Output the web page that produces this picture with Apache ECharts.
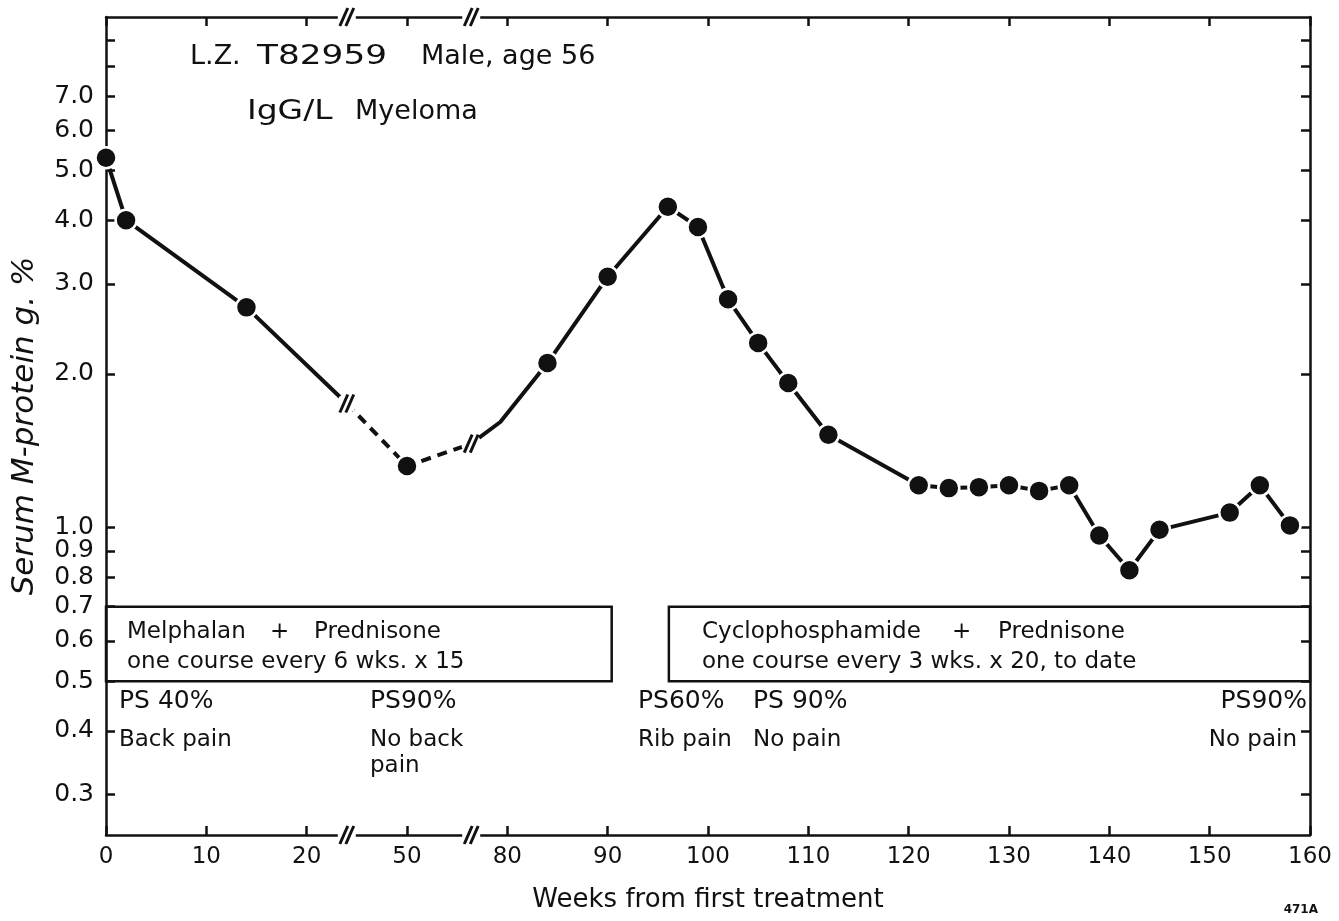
<!DOCTYPE html>
<html><head><meta charset="utf-8">
<script src="https://cdn.jsdelivr.net/npm/echarts@6/dist/echarts.min.js"></script>
<style>html,body{margin:0;padding:0;background:#fff}#c{width:1339px;height:921px}</style>
</head><body><div id="c"></div>
<script>
// ---- data ----
const weeks   = [0, 2, 14, 50, 84, 90, 96, 99, 102, 105, 108, 112, 121, 124, 127, 130, 133, 136, 139, 142, 145, 152, 155, 158];
const protein = [5.3, 4.0, 2.7, 1.32, 2.1, 3.1, 4.25, 3.88, 2.8, 2.3, 1.92, 1.52, 1.21, 1.195, 1.2, 1.21, 1.18, 1.21, 0.965, 0.825, 0.99, 1.07, 1.21, 1.01];
const kinkWeeks  = [79.3];
const kinkValues = [1.61];
// axis breaks (in compressed axis units) and where the line crosses them
const breakAxisPos = [24, 36.4];
const breakValues  = [1.75, 1.46];
const xTickLabels = ['0', '10', '20', '50', '80', '90', '100', '110', '120', '130', '140', '150', '160'];
const yTickValues  = [0.3, 0.4, 0.5, 0.6, 0.7, 0.8, 0.9, 1, 2, 3, 4, 5, 6, 7, 8, 9];
const yLabelValues = [0.3, 0.4, 0.5, 0.6, 0.7, 0.8, 0.9, 1, 2, 3, 4, 5, 6, 7];

// broken week scale: 0–24 | 44–56.4 | 76.4–160
function toAxis(w) { if (w <= 24) return w; if (w <= 56.4) return w - 20; return w - 40; }

const FONT = 'DejaVu Sans';
const K = '#111';

const pts = weeks.map((w, i) => [toAxis(w), protein[i]]);
const kink = kinkWeeks.map((w, i) => [toAxis(w), kinkValues[i]]);
const seg1 = pts.filter(p => p[0] < breakAxisPos[0]).concat([[breakAxisPos[0], breakValues[0]]]);
const segDash = [[breakAxisPos[0], breakValues[0]], pts[3], [breakAxisPos[1], breakValues[1]]];
const seg2 = [[breakAxisPos[1], breakValues[1]]].concat(kink, pts.filter(p => p[0] > breakAxisPos[1]));

const chart = echarts.init(document.getElementById('c'), null, {renderer: 'canvas'});

const xCommon = {
  type: 'value', min: 0, max: 120, interval: 10,
  axisLine: {onZero: false, lineStyle: {color: K, width: 2.5}},
  axisTick: {inside: true, length: 9, lineStyle: {color: K, width: 2.5}},
  splitLine: {show: false}
};
const yCommon = {
  type: 'log', logBase: 10, min: 0.25, max: 10,
  axisLine: {show: true, onZero: false, lineStyle: {color: K, width: 2.5}},
  axisTick: {show: true, inside: true, length: 9, customValues: yTickValues, lineStyle: {color: K, width: 2.5}},
  splitLine: {show: false}, minorTick: {show: false}
};
const lineStyle = {color: K, width: 4};

chart.setOption({
  animation: false,
  backgroundColor: '#fff',
  grid: {left: 106, right: 29, top: 17, bottom: 86, containLabel: false, outerBoundsMode: 'none'},
  xAxis: [
    Object.assign({}, xCommon, {
      position: 'bottom',
      axisLabel: {color: K, fontFamily: FONT, fontSize: 23, margin: 11,
        formatter: v => xTickLabels[Math.round(v / 10)] || ''},
      name: 'Weeks from first treatment', nameLocation: 'middle', nameGap: 52,
      nameTextStyle: {color: K, fontFamily: FONT, fontSize: 26}
    }),
    Object.assign({}, xCommon, {position: 'top', axisLabel: {show: false}})
  ],
  yAxis: [
    Object.assign({}, yCommon, {
      position: 'left',
      axisLabel: {color: K, fontFamily: FONT, fontSize: 25, margin: 12, customValues: yLabelValues,
        formatter: v => Number(v).toFixed(1)},
      name: 'Serum M-protein g. %', nameLocation: 'middle', nameGap: 66, nameRotate: 90,
      nameTextStyle: {color: K, fontFamily: FONT, fontSize: 31, fontStyle: 'italic'}
    }),
    Object.assign({}, yCommon, {position: 'right', axisLabel: {show: false, customValues: yLabelValues}})
  ],
  series: [
    {type: 'line', data: seg1, showSymbol: false, lineStyle: lineStyle, z: 3,
      markArea: {silent: true, itemStyle: {color: 'rgba(0,0,0,0)', borderColor: K, borderWidth: 2.5},
        data: [
          [{coord: [0, 0.7]}, {coord: [50.4, 0.5]}],
          [{coord: [56.1, 0.7]}, {coord: [120, 0.5]}]
        ]}},
    {type: 'line', data: segDash, showSymbol: false, lineStyle: {color: K, width: 4, type: [10, 7]}, z: 3},
    {type: 'line', data: seg2, showSymbol: false, lineStyle: lineStyle, z: 3},
    {type: 'scatter', data: pts, symbol: 'circle', symbolSize: 21,
      itemStyle: {color: K, borderColor: '#fff', borderWidth: 2.5, opacity: 1}, z: 5}
  ]
});

// ---- annotations ----
const g = [];
function txt(x, y, s, size, align, extra) {
  extra = extra || {};
  g.push({type: 'text', x: x, y: y, z: 100, scaleX: extra.sx || 1,
    style: {text: s, fill: K, font: (extra.bold ? 'bold ' : '') + size + 'px "' + FONT + '"',
      textAlign: align || 'left', textVerticalAlign: 'middle'}});
}
function strokes(cx, cy, h, sep, cover) {
  if (cover === 'h') g.push({type: 'rect', z: 99, shape: {x: cx - sep - 3, y: cy - 3, width: 2 * sep + 6, height: 6}, style: {fill: '#fff'}});
  if (cover === 'c') g.push({type: 'circle', z: 99, shape: {cx: cx, cy: cy, r: sep + 4}, style: {fill: '#fff'}});
  [-sep / 2, sep / 2].forEach(d => g.push({type: 'line', z: 100,
    shape: {x1: cx + d - h * 0.22, y1: cy + h / 2, x2: cx + d + h * 0.22, y2: cy - h / 2},
    style: {stroke: K, lineWidth: 3}}));
}
const gridTop = 17, gridBottom = 921 - 86;
breakAxisPos.forEach((a, i) => {
  const px = chart.convertToPixel({xAxisIndex: 0}, a);
  strokes(px, gridTop, 18, 6, 'h');
  strokes(px, gridBottom, 18, 6, 'h');
  const p = chart.convertToPixel({xAxisIndex: 0, yAxisIndex: 0}, [a, breakValues[i]]);
  strokes(p[0], p[1], 18, 6, 'c');
});

txt(190, 57, 'L.Z.', 27);
txt(257, 57, 'T82959', 27, 'left', {sx: 1.27});
txt(421, 57, 'Male, age 56', 27);
txt(247, 112, 'IgG/L', 27, 'left', {sx: 1.22});
txt(355, 112, 'Myeloma', 27);
txt(127, 632, 'Melphalan', 23);
txt(270, 632, '+', 23);
txt(314, 632, 'Prednisone', 23);
txt(127, 662, 'one course every 6 wks. x 15', 23);
txt(702, 632, 'Cyclophosphamide', 23);
txt(952, 632, '+', 23);
txt(998, 632, 'Prednisone', 23);
txt(702, 662, 'one course every 3 wks. x 20, to date', 23);
txt(119, 701, 'PS 40%', 25);
txt(119, 740, 'Back pain', 23);
txt(370, 701, 'PS90%', 25);
txt(370, 740, 'No back', 23);
txt(370, 766, 'pain', 23);
txt(638, 701, 'PS60%', 25);
txt(638, 740, 'Rib pain', 23);
txt(753, 701, 'PS 90%', 25);
txt(753, 740, 'No pain', 23);
txt(1307, 701, 'PS90%', 25, 'right');
txt(1297, 740, 'No pain', 23, 'right');
txt(1318, 910, '471A', 12, 'right', {bold: true});

chart.setOption({graphic: {elements: g}});
</script>
</body></html>
